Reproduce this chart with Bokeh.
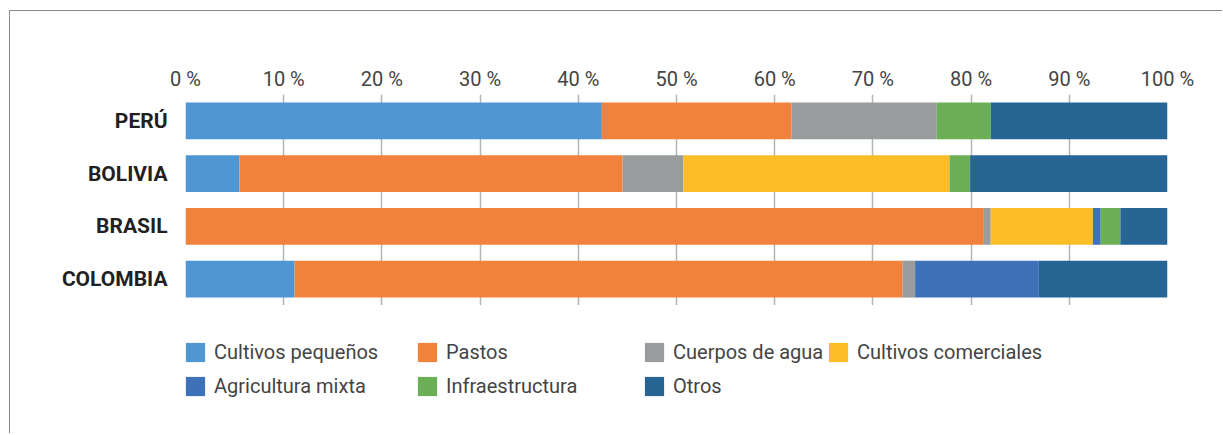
from bokeh.plotting import figure
from bokeh.layouts import column
from bokeh.models import (ColumnDataSource, FactorRange, Range1d, LinearAxis, FixedTicker,
                          Legend, LegendItem)
from bokeh.embed import file_html
from bokeh.resources import INLINE

countries = ["PERÚ", "BOLIVIA", "BRASIL", "COLOMBIA"]
cultivos_pequenos = [42.4, 5.5, 0.0, 11.1]
pastos = [19.3, 39.0, 81.3, 61.9]
cuerpos_agua = [14.8, 6.2, 0.7, 1.3]
cultivos_comerciales = [0.0, 27.1, 10.4, 0.0]
agricultura_mixta = [0.0, 0.0, 0.8, 12.6]
infraestructura = [5.5, 2.1, 2.0, 0.0]
otros = [18.0, 20.1, 4.8, 13.1]

series_names = ["Cultivos pequeños", "Pastos", "Cuerpos de agua", "Cultivos comerciales",
                "Agricultura mixta", "Infraestructura", "Otros"]
series_keys = ["cp", "pa", "ca", "cc", "am", "inf", "ot"]
colors = ["#4F97D3", "#F0823B", "#999C9C", "#FDBD27", "#3D72B9", "#6BB056", "#276595"]
tick_values = [0, 10, 20, 30, 40, 50, 60, 70, 80, 90, 100]
tick_labels = ["0 %", "10 %", "20 %", "30 %", "40 %", "50 %", "60 %", "70 %", "80 %", "90 %", "100 %"]

source = ColumnDataSource(dict(country=countries, cp=cultivos_pequenos, pa=pastos, ca=cuerpos_agua,
                               cc=cultivos_comerciales, am=agricultura_mixta, inf=infraestructura,
                               ot=otros))

W = 1213
BORDER = "1.5px solid #8a8a8a"
p = figure(width=W, height=295, output_backend="svg", toolbar_location=None,
           x_range=Range1d(0, 100), y_range=FactorRange(factors=list(reversed(countries))),
           x_axis_location=None, min_border_left=175, min_border_right=56,
           min_border_top=83, min_border_bottom=1,
           styles={"border-left": BORDER, "border-top": BORDER})
p.outline_line_color = None

renderers = p.hbar_stack(series_keys, y="country", height=0.7, source=source,
                         fill_color=colors, line_color=None)

# top axis
ax = LinearAxis(ticker=FixedTicker(ticks=tick_values))
ax.major_label_overrides = {v: l for v, l in zip(tick_values, tick_labels)}
ax.axis_line_color = None
ax.major_tick_line_color = None
ax.minor_tick_line_color = None
ax.major_tick_out = 0
ax.major_tick_in = 0
ax.major_label_standoff = 4
ax.major_label_text_font = "Roboto"
ax.major_label_text_font_size = "20px"
ax.major_label_text_color = "#444444"
p.add_layout(ax, "above")

p.xgrid.ticker = FixedTicker(ticks=tick_values)
p.xgrid.grid_line_color = "#b4b4b4"
p.xgrid.grid_line_width = 1.5
p.ygrid.grid_line_color = None

ya = p.yaxis[0]
ya.axis_line_color = None
ya.major_tick_line_color = None
ya.minor_tick_line_color = None
ya.major_tick_out = 0
ya.major_label_standoff = 18
ya.major_label_text_font = "Roboto"
ya.major_label_text_font_style = "bold"
ya.major_label_text_font_size = "21px"
ya.major_label_text_color = "#231f20"

# legend figure below (its frame is aligned with the main frame by the column layout)
LH = 128
pl = figure(width=W, height=LH, output_backend="svg", toolbar_location=None,
            x_range=Range1d(0, 100), y_range=FactorRange(factors=countries),
            x_axis_location=None, y_axis_location=None,
            min_border_left=175, min_border_right=56, min_border_top=0, min_border_bottom=0,
            styles={"border-left": BORDER})
pl.outline_line_color = None
pl.xgrid.grid_line_color = None
pl.ygrid.grid_line_color = None

# hidden copies of the stacked bars, used only as legend proxies
leg_renderers = pl.hbar_stack(series_keys, y="country", height=0.7, source=source,
                              fill_color=colors, line_color=None, visible=False)

cols = [[0, 4], [1, 5], [2, 6], [3]]
xoffs = [-2, 230, 457, 641]
ITEM_H = 24
SP = 10
for col, xo in zip(cols, xoffs):
    items = [LegendItem(label=series_names[i], renderers=[leg_renderers[i]]) for i in col]
    h = ITEM_H * len(col) + SP * (len(col) - 1)
    leg = Legend(items=items, location=(xo, LH - 35 - h), orientation="vertical",
                 glyph_width=24, glyph_height=24, label_height=19, spacing=SP,
                 label_standoff=7, padding=0, margin=0, border_line_color=None,
                 background_fill_alpha=0, label_text_font="Roboto",
                 inactive_fill_alpha=0,
                 label_text_font_size="20px", label_text_color="#444444")
    pl.add_layout(leg, "center")

layout = column(p, pl, spacing=0, styles={"margin-left": "9px", "margin-top": "10px"})

open("out.html", "w").write(file_html(layout, INLINE))
